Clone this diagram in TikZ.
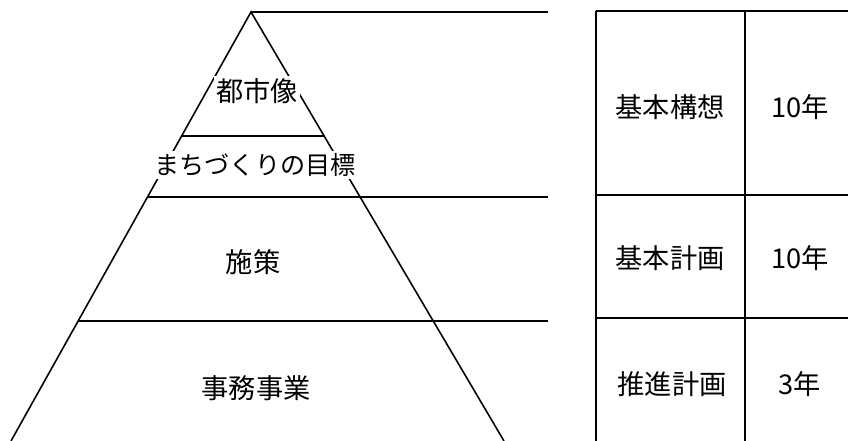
\documentclass[tikz,border=0pt]{standalone}
\usepackage{fontspec}
\newfontfamily\jpfont{Noto Sans CJK JP}
\usetikzlibrary{calc,positioning}

\begin{document}
\begin{tikzpicture}[x=0.2mm,y=-0.2mm,
	line width=0.9pt,
	lbl/.style={font=\jpfont\fontsize{15.5}{17}\selectfont,inner sep=1.5pt,fill=white},
	cell/.style={font=\jpfont\fontsize{15.5}{17}\selectfont,inner sep=1pt}]
	\useasboundingbox (0,0) rectangle (848,441);
	% pyramid
	\coordinate (apex) at (251,12);
	\coordinate (bl) at (11,441);
	\coordinate (br) at (504,441);
	\coordinate (tr) at (548,12);
	\coordinate (l1) at ($(apex)!0.289!(bl)$);
	\coordinate (r1) at ($(apex)!0.289!(br)$);
	\coordinate (l2) at ($(apex)!0.431!(bl)$);
	\coordinate (l3) at ($(apex)!0.72!(bl)$);
	\draw (bl) -- (apex) -- (br);
	\draw (apex) -- (tr);
	\draw (l1) -- (r1);
	\draw (l2) -- (l2 -| tr);
	\draw (l3) -- (l3 -| tr);
	\node [lbl] (toshi) at (257,91) {都市像};
	\node [lbl,font=\jpfont\fontsize{14.3}{16}\selectfont] (mokuhyo) at (255,165) {まちづくりの目標};
	\node [lbl] (shisaku) at (253,262) {施策};
	\node [lbl] (jimu) at (256,388) {事務事業};
	% table
	\coordinate (t0) at (596,11);
	\coordinate (t1) at (745,11);
	\coordinate (te) at (848,11);
	\draw (t0) -- (t0 |- 0,441);
	\draw (t1) -- (t1 |- 0,441);
	\draw (t0) -- (te);
	\draw (596,195) -- (848,195);
	\draw (596,318) -- (848,318);
	\node [cell] (kousou) at (670,107) {基本構想};
	\node [cell] (y1) at (800,107) {10年};
	\node [cell] (keikaku) at (670,258) {基本計画};
	\node [cell] (y2) at (800,258) {10年};
	\node [cell] (suishin) at (672,384) {推進計画};
	\node [cell] (y3) at (800,384) {3年};
\end{tikzpicture}
\end{document}
